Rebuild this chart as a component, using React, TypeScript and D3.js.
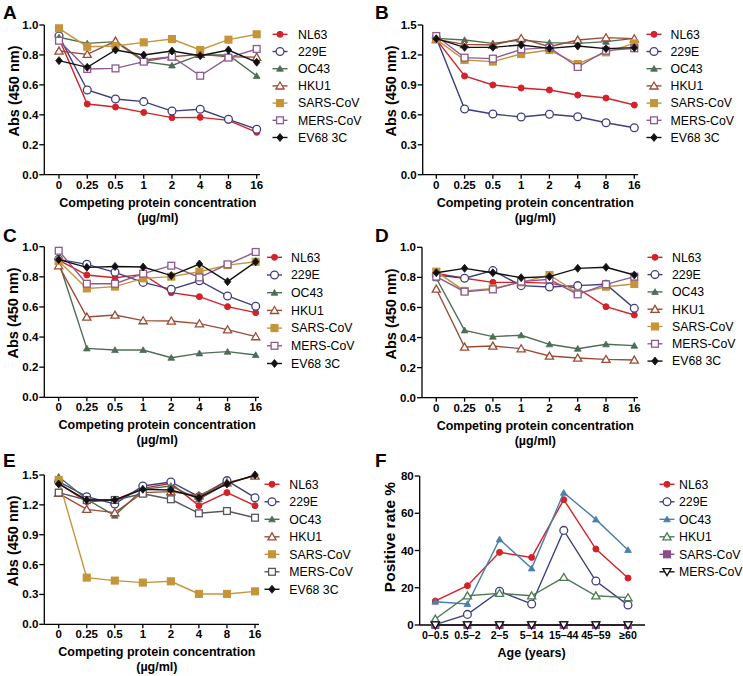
import React from "react";
import * as d3 from "d3";

const concCats = ["0", "0.25", "0.5", "1", "2", "4", "8", "16"];
const ageCats = ["0–0.5", "0.5–2", "2–5", "5–14", "15–44", "45–59", "≥60"];
const seriesNamesAE = ["NL63", "229E", "OC43", "HKU1", "SARS-CoV", "MERS-CoV", "EV68 3C"];
const seriesNamesF = ["NL63", "229E", "OC43", "HKU1", "SARS-CoV", "MERS-CoV"];

// Panel A
const aNL63 = [0.91, 0.472, 0.452, 0.416, 0.381, 0.383, 0.363, 0.283];
const a229E = [0.926, 0.566, 0.506, 0.488, 0.425, 0.437, 0.37, 0.303];
const aOC43 = [0.918, 0.877, 0.889, 0.755, 0.73, 0.8, 0.8, 0.66];
const aHKU1 = [0.826, 0.804, 0.893, 0.766, 0.788, 0.804, 0.788, 0.785];
const aSARS = [0.978, 0.855, 0.86, 0.884, 0.906, 0.833, 0.902, 0.938];
const aMERS = [0.895, 0.706, 0.71, 0.755, 0.788, 0.661, 0.782, 0.84];
const aEV68 = [0.762, 0.717, 0.833, 0.8, 0.826, 0.795, 0.833, 0.751];

// Panel B
const bNL63 = [1.356, 0.989, 0.899, 0.869, 0.849, 0.798, 0.768, 0.698];
const b229E = [1.37, 0.658, 0.608, 0.578, 0.605, 0.581, 0.521, 0.471];
const bOC43 = [1.366, 1.35, 1.316, 1.35, 1.323, 1.316, 1.333, 1.366];
const bHKU1 = [1.356, 1.306, 1.3, 1.366, 1.283, 1.35, 1.373, 1.363];
const bSARS = [1.356, 1.149, 1.133, 1.209, 1.249, 1.109, 1.226, 1.316];
const bMERS = [1.39, 1.173, 1.163, 1.256, 1.273, 1.079, 1.243, 1.266];
const bEV68 = [1.363, 1.276, 1.276, 1.3, 1.266, 1.289, 1.263, 1.273];

// Panel C
const cNL63 = [0.911, 0.812, 0.794, 0.816, 0.695, 0.668, 0.602, 0.562];
const c229E = [0.916, 0.883, 0.83, 0.763, 0.717, 0.774, 0.673, 0.604];
const cOC43 = [0.9, 0.325, 0.314, 0.314, 0.263, 0.292, 0.303, 0.281];
const cHKU1 = [0.874, 0.533, 0.546, 0.509, 0.507, 0.489, 0.449, 0.403];
const cSARS = [0.905, 0.723, 0.735, 0.79, 0.801, 0.834, 0.878, 0.9];
const cMERS = [0.973, 0.754, 0.754, 0.821, 0.874, 0.796, 0.883, 0.965];
const cEV68 = [0.914, 0.863, 0.869, 0.865, 0.808, 0.885, 0.768, 0.9];

// Panel D
const dNL63 = [0.827, 0.794, 0.767, 0.767, 0.762, 0.727, 0.605, 0.55];
const d229E = [0.816, 0.794, 0.845, 0.745, 0.736, 0.745, 0.754, 0.594];
const dOC43 = [0.794, 0.448, 0.406, 0.415, 0.355, 0.326, 0.355, 0.346];
const dHKU1 = [0.723, 0.337, 0.344, 0.326, 0.277, 0.264, 0.255, 0.251];
const dSARS = [0.838, 0.71, 0.727, 0.767, 0.816, 0.694, 0.738, 0.756];
const dMERS = [0.805, 0.705, 0.72, 0.772, 0.787, 0.687, 0.754, 0.805];
const dEV68 = [0.831, 0.86, 0.831, 0.798, 0.805, 0.86, 0.867, 0.816];

// Panel E
const eNL63 = [1.416, 1.232, 1.249, 1.366, 1.416, 1.192, 1.323, 1.192];
const e229E = [1.433, 1.282, 1.209, 1.39, 1.43, 1.282, 1.443, 1.272];
const eOC43 = [1.483, 1.256, 1.092, 1.356, 1.39, 1.256, 1.416, 1.493];
const eHKU1 = [1.316, 1.155, 1.122, 1.323, 1.333, 1.292, 1.423, 1.49];
const eSARS = [1.45, 0.469, 0.439, 0.419, 0.432, 0.305, 0.305, 0.331];
const eMERS = [1.323, 1.249, 1.249, 1.312, 1.256, 1.115, 1.138, 1.071];
const eEV68 = [1.41, 1.249, 1.249, 1.356, 1.349, 1.272, 1.41, 1.5];

// Panel F (positive rate %)
const fNL63 = [12.9, 21.1, 39.0, 36.3, 67.3, 40.8, 25.2];
const f229E = [0.2, 5.7, 18.1, 11.3, 50.8, 23.6, 10.7];
const fOC43 = [12.5, 11.3, 46.0, 30.4, 71.0, 56.7, 40.3];
const fHKU1 = [3.2, 15.7, 17.0, 15.7, 25.6, 15.7, 14.7];
const fSARS = [0, 0, 0, 0, 0, 0, 0];
const fMERS = [0, 0, 0, 0, 0, 0, 0];

const ticks05 = [0, 0.3, 0.6, 0.9, 1.2, 1.5];
const ticks10 = [0, 0.2, 0.4, 0.6, 0.8, 1.0];
const ticksF = [0, 20, 40, 60, 80];

type Style = { color: string; shape: string; fill: boolean };

const stylesAE: Style[] = [
  { color: "#d3222a", shape: "circleSmall", fill: true },
  { color: "#3e3f7e", shape: "circle", fill: false },
  { color: "#4e6d56", shape: "triangle", fill: true },
  { color: "#9b4c35", shape: "triangle", fill: false },
  { color: "#c4953b", shape: "square", fill: true },
  { color: "#8d5a90", shape: "square", fill: false },
  { color: "#111111", shape: "diamond", fill: true },
];
const stylesE: Style[] = stylesAE.map((s, i) => (i === 5 ? { ...s, color: "#5b5560" } : s));
const stylesF: Style[] = [
  { color: "#d3222a", shape: "circleSmall", fill: true },
  { color: "#3e3f7e", shape: "circle", fill: false },
  { color: "#4a7eaf", shape: "triangle", fill: true },
  { color: "#4f7a55", shape: "triangle", fill: false },
  { color: "#8d4a8d", shape: "square", fill: true },
  { color: "#111111", shape: "triangleDown", fill: false },
];

type Panel = {
  letter: string;
  letterX: number;
  letterY: number;
  axisX: number;
  yTop: number;
  yBottom: number;
  xFirst: number;
  xLast: number;
  xEnd: number;
  yMax: number;
  yTicks: number[];
  yFmt: (v: number) => string;
  cats: string[];
  xTickFont: number;
  series: number[][];
  names: string[];
  styles: Style[];
  legMarkX: number;
  legTextX: number;
  legY: number;
  legStep: number;
  yTitle: string;
  yTitleX: number;
  yTitleY: number;
  yTitleFont: number;
  xTitle: string[];
};

const fmt1 = (v: number) => v.toFixed(1);
const fmt0 = (v: number) => String(v);

const panels: Panel[] = [
  {
    letter: "A", letterX: 3, letterY: 19, axisX: 44.3, yTop: 25, yBottom: 174.7, xFirst: 59, xLast: 256.7, xEnd: 260,
    yMax: 1.0, yTicks: ticks10, yFmt: fmt1, cats: concCats, xTickFont: 11.5,
    series: [aNL63, a229E, aOC43, aHKU1, aSARS, aMERS, aEV68], names: seriesNamesAE, styles: stylesAE,
    legMarkX: 280, legTextX: 298, legY: 34.3, legStep: 17.2, yTitle: "Abs (450 nm)", yTitleX: 14, yTitleY: 91, yTitleFont: 14.5,
    xTitle: ["Competing protein concentration", "(µg/ml)"],
  },
  {
    letter: "B", letterX: 375, letterY: 19, axisX: 422.7, yTop: 25, yBottom: 174.7, xFirst: 436.3, xLast: 634.3, xEnd: 638,
    yMax: 1.5, yTicks: ticks05, yFmt: fmt1, cats: concCats, xTickFont: 11.5,
    series: [bNL63, b229E, bOC43, bHKU1, bSARS, bMERS, bEV68], names: seriesNamesAE, styles: stylesAE,
    legMarkX: 654, legTextX: 670.5, legY: 34.3, legStep: 17.2, yTitle: "Abs (450 nm)", yTitleX: 391, yTitleY: 91, yTitleFont: 14.5,
    xTitle: ["Competing protein concentration", "(µg/ml)"],
  },
  {
    letter: "C", letterX: 3, letterY: 242, axisX: 44.3, yTop: 246.7, yBottom: 397.3, xFirst: 58.7, xLast: 255.7, xEnd: 259,
    yMax: 1.0, yTicks: ticks10, yFmt: fmt1, cats: concCats, xTickFont: 11.5,
    series: [cNL63, c229E, cOC43, cHKU1, cSARS, cMERS, cEV68], names: seriesNamesAE, styles: stylesAE,
    legMarkX: 274.5, legTextX: 291, legY: 257.3, legStep: 17.7, yTitle: "Abs (450 nm)", yTitleX: 13, yTitleY: 313, yTitleFont: 14.5,
    xTitle: ["Competing protein concentration", "(µg/ml)"],
  },
  {
    letter: "D", letterX: 375, letterY: 242, axisX: 422, yTop: 247.3, yBottom: 397.7, xFirst: 436.3, xLast: 634.3, xEnd: 638,
    yMax: 1.0, yTicks: ticks10, yFmt: fmt1, cats: concCats, xTickFont: 11.5,
    series: [dNL63, d229E, dOC43, dHKU1, dSARS, dMERS, dEV68], names: seriesNamesAE, styles: stylesAE,
    legMarkX: 655, legTextX: 672, legY: 257.3, legStep: 17.3, yTitle: "Abs (450 nm)", yTitleX: 391, yTitleY: 314, yTitleFont: 14.5,
    xTitle: ["Competing protein concentration", "(µg/ml)"],
  },
  {
    letter: "E", letterX: 3, letterY: 467, axisX: 44.3, yTop: 475, yBottom: 624.3, xFirst: 58.7, xLast: 255, xEnd: 259,
    yMax: 1.5, yTicks: ticks05, yFmt: fmt1, cats: concCats, xTickFont: 11.5,
    series: [eNL63, e229E, eOC43, eHKU1, eSARS, eMERS, eEV68], names: seriesNamesAE, styles: stylesE,
    legMarkX: 272, legTextX: 289.3, legY: 484.3, legStep: 17.5, yTitle: "Abs (450 nm)", yTitleX: 13, yTitleY: 541, yTitleFont: 14.5,
    xTitle: ["Competing protein concentration", "(µg/ml)"],
  },
  {
    letter: "F", letterX: 375, letterY: 467, axisX: 419.7, yTop: 476, yBottom: 625, xFirst: 435.3, xLast: 628, xEnd: 645,
    yMax: 80, yTicks: ticksF, yFmt: fmt0, cats: ageCats, xTickFont: 10.6,
    series: [fNL63, f229E, fOC43, fHKU1, fSARS, fMERS], names: seriesNamesF, styles: stylesF,
    legMarkX: 667, legTextX: 679, legY: 484.3, legStep: 17.5, yTitle: "Positive rate %", yTitleX: 390, yTitleY: 537, yTitleFont: 15.5,
    xTitle: ["Age (years)"],
  },
];

const FONT = "Arial, 'Liberation Sans', Helvetica, sans-serif";

function Marker({ x, y, s }: { x: number; y: number; s: Style }) {
  const fill = s.fill ? s.color : "#ffffff";
  const sw = 1.3;
  if (s.shape === "circleSmall") return <circle cx={x} cy={y} r={3} fill={fill} stroke={s.color} strokeWidth={1} />;
  if (s.shape === "circle") return <circle cx={x} cy={y} r={3.9} fill={fill} stroke={s.color} strokeWidth={sw} />;
  if (s.shape === "square") return <rect x={x - 3.4} y={y - 3.4} width={6.8} height={6.8} fill={fill} stroke={s.color} strokeWidth={sw} />;
  if (s.shape === "diamond") {
    const pts = `${x},${y - 4} ${x + 3.3},${y} ${x},${y + 4} ${x - 3.3},${y}`;
    return <polygon points={pts} fill={fill} stroke={s.color} strokeWidth={0.8} />;
  }
  if (s.shape === "triangle") {
    const r = s.fill ? 3.2 : 3.9;
    const pts = `${x},${y - r} ${x + r * 1.05},${y + r * 0.8} ${x - r * 1.05},${y + r * 0.8}`;
    return <polygon points={pts} fill={fill} stroke={s.color} strokeWidth={s.fill ? 0.8 : sw} />;
  }
  if (s.shape === "triangleDown") {
    const r = 3.9;
    const pts = `${x},${y + r} ${x + r * 1.05},${y - r * 0.8} ${x - r * 1.05},${y - r * 0.8}`;
    return <polygon points={pts} fill={fill} stroke={s.color} strokeWidth={sw} />;
  }
  return null;
}

function PanelView({ p }: { p: Panel }) {
  const x = d3.scalePoint<string>().domain(p.cats).range([p.xFirst, p.xLast]);
  const y = d3.scaleLinear().domain([0, p.yMax]).range([p.yBottom, p.yTop]);
  const line = d3
    .line<number>()
    .x((_, i) => x(p.cats[i]) as number)
    .y((v) => y(v));
  const midX = (p.xFirst + p.xLast) / 2;
  return (
    <g>
      <text x={p.letterX} y={p.letterY} fontFamily={FONT} fontWeight="bold" fontSize={19} fill="#000">
        {p.letter}
      </text>
      <line x1={p.axisX} x2={p.axisX} y1={p.yTop} y2={p.yBottom} stroke="#000" strokeWidth={1.3} />
      <line x1={p.axisX} x2={p.xEnd} y1={p.yBottom} y2={p.yBottom} stroke="#000" strokeWidth={1.3} />
      {p.yTicks.map((t) => (
        <g key={t}>
          <line x1={p.axisX - 5} x2={p.axisX} y1={y(t)} y2={y(t)} stroke="#000" strokeWidth={1.3} />
          <text x={p.axisX - 6} y={y(t) + 4} textAnchor="end" fontFamily={FONT} fontWeight="bold" fontSize={11.5} fill="#000">
            {p.yFmt(t)}
          </text>
        </g>
      ))}
      {p.cats.map((c) => (
        <g key={c}>
          <line x1={x(c)} x2={x(c)} y1={p.yBottom} y2={p.yBottom + 4} stroke="#000" strokeWidth={1.3} />
          <text x={x(c)} y={p.yBottom + 14} textAnchor="middle" fontFamily={FONT} fontWeight="bold" fontSize={p.xTickFont} fill="#000">
            {c}
          </text>
        </g>
      ))}
      <text
        transform={`translate(${p.yTitleX + 5.2},${p.yTitleY}) rotate(-90)`}
        textAnchor="middle"
        fontFamily={FONT}
        fontWeight="bold"
        fontSize={p.yTitleFont}
        fill="#000"
      >
        {p.yTitle}
      </text>
      {p.xTitle.map((t, i) => (
        <text key={t} x={midX} y={p.yBottom + 32 + i * 15} textAnchor="middle" fontFamily={FONT} fontWeight="bold" fontSize={12.5} fill="#000">
          {t}
        </text>
      ))}
      {p.series.map((vals, si) => {
        const s = p.styles[si];
        return (
          <g key={si}>
            <path d={line(vals) || ""} fill="none" stroke={s.color} strokeWidth={1.4} />
            {vals.map((v, i) => (
              <Marker key={i} x={x(p.cats[i]) as number} y={y(v)} s={s} />
            ))}
          </g>
        );
      })}
      {p.names.map((n, i) => {
        const ly = p.legY + i * p.legStep;
        const s = p.styles[i];
        return (
          <g key={n}>
            <line x1={p.legMarkX - 7.5} x2={p.legMarkX + 7.5} y1={ly} y2={ly} stroke={s.color} strokeWidth={1.4} />
            <Marker x={p.legMarkX} y={ly} s={s} />
            <text x={p.legTextX} y={ly + 4.3} fontFamily={FONT} fontSize={12.3} fill="#000">
              {n}
            </text>
          </g>
        );
      })}
    </g>
  );
}

export default function App() {
  return (
    <svg width={743} height={676} style={{ position: "absolute", left: 0, top: 0, background: "#fff" }}>
      <rect width={743} height={676} fill="#fff" />
      {panels.map((p) => (
        <PanelView key={p.letter} p={p} />
      ))}
    </svg>
  );
}
